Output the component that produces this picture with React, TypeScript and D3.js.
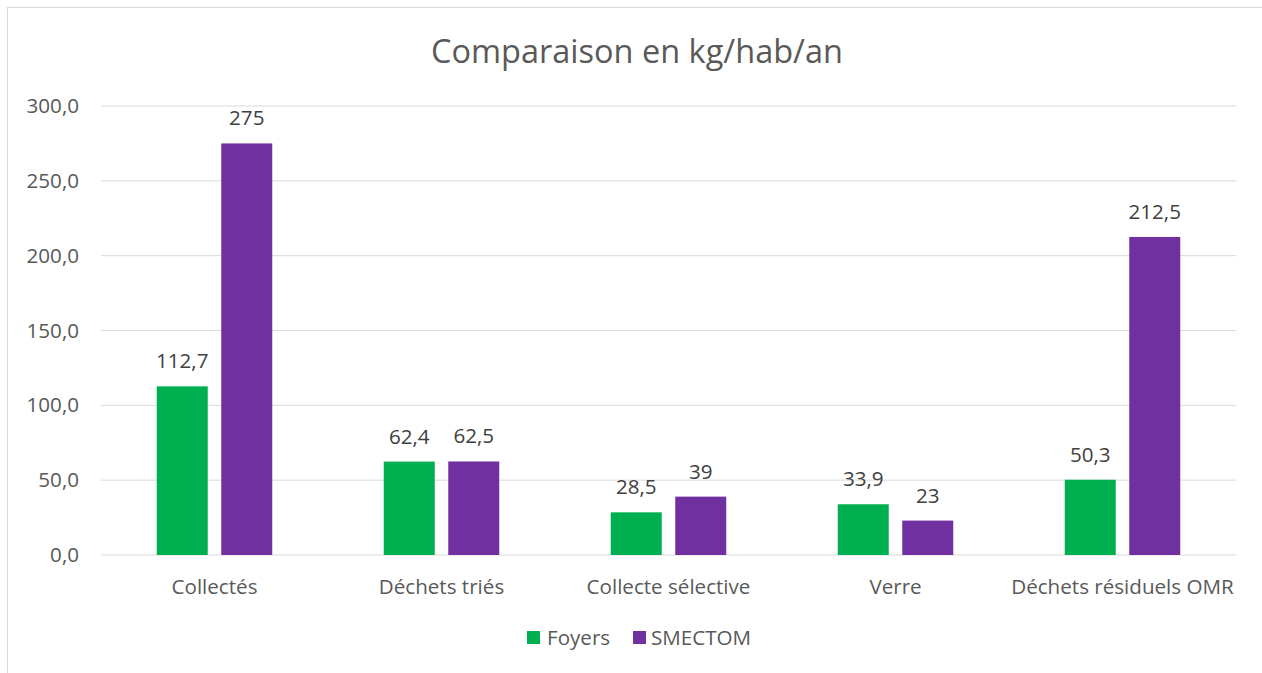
import React from "react";
import * as d3 from "d3";

const categories = ["Collectés", "Déchets triés", "Collecte sélective", "Verre", "Déchets résiduels OMR"];
const seriesNames = ["Foyers", "SMECTOM"];
const foyers = [112.7, 62.4, 28.5, 33.9, 50.3];
const smectom = [275, 62.5, 39, 23, 212.5];
const foyersLabels = ["112,7", "62,4", "28,5", "33,9", "50,3"];
const smectomLabels = ["275", "62,5", "39", "23", "212,5"];
const yTicks = [0, 50, 100, 150, 200, 250, 300];
const colors = ["#00B050", "#7030A0"];

const W = 1262, H = 673;
const FONT = "'Open Sans', sans-serif";
const FS = 20.6;

export default function App() {
  const x = d3.scaleBand<string>().domain(categories).range([101, 1236]).paddingInner(0).paddingOuter(0);
  const y = d3.scaleLinear().domain([0, 300]).range([555, 106]);
  const barW = 51;
  const gap = 13.5;
  const series = [
    { name: seriesNames[0], values: foyers, labels: foyersLabels, color: colors[0], off: -gap / 2 - barW },
    { name: seriesNames[1], values: smectom, labels: smectomLabels, color: colors[1], off: gap / 2 },
  ];
  return (
    <svg width={W} height={H} style={{ position: "absolute", left: 0, top: 0, fontFamily: FONT }}>
      <rect x={0} y={0} width={W} height={H} fill="#fff" />
      <rect x={7.5} y={7.5} width={W + 10} height={H + 10} fill="#fff" stroke="#D9D9D9" strokeWidth={1} />
      <text x={637} y={63} textAnchor="middle" fontSize={32.5} fill="#595959">Comparaison en kg/hab/an</text>
      {yTicks.map((t) => (
        <g key={t}>
          <line x1={101} x2={1236} y1={y(t)} y2={y(t)} stroke="#D9D9D9" strokeWidth={1} />
          <text x={79} y={y(t) + 7} textAnchor="end" fontSize={FS} fill="#595959">
            {d3.format(".1f")(t).replace(".", ",")}
          </text>
        </g>
      ))}
      {categories.map((c, i) => {
        const cx = (x(c) as number) + x.bandwidth() / 2;
        return (
          <g key={c}>
            {series.map((s) => (
              <g key={s.name}>
                <rect x={cx + s.off} y={y(s.values[i])} width={barW} height={y(0) - y(s.values[i])} fill={s.color} />
                <text x={cx + s.off + barW / 2} y={y(s.values[i]) - 18} textAnchor="middle" fontSize={FS} fill="#404040">
                  {s.labels[i]}
                </text>
              </g>
            ))}
            <text x={cx} y={594} textAnchor="middle" fontSize={FS} fill="#595959">{c}</text>
          </g>
        );
      })}
      <g>
        <rect x={527} y={631} width={13} height={13} fill={colors[0]} />
        <text x={547} y={645} fontSize={FS} fill="#595959">{seriesNames[0]}</text>
        <rect x={633} y={631} width={13} height={13} fill={colors[1]} />
        <text x={651} y={645} fontSize={FS} fill="#595959">{seriesNames[1]}</text>
      </g>
    </svg>
  );
}
